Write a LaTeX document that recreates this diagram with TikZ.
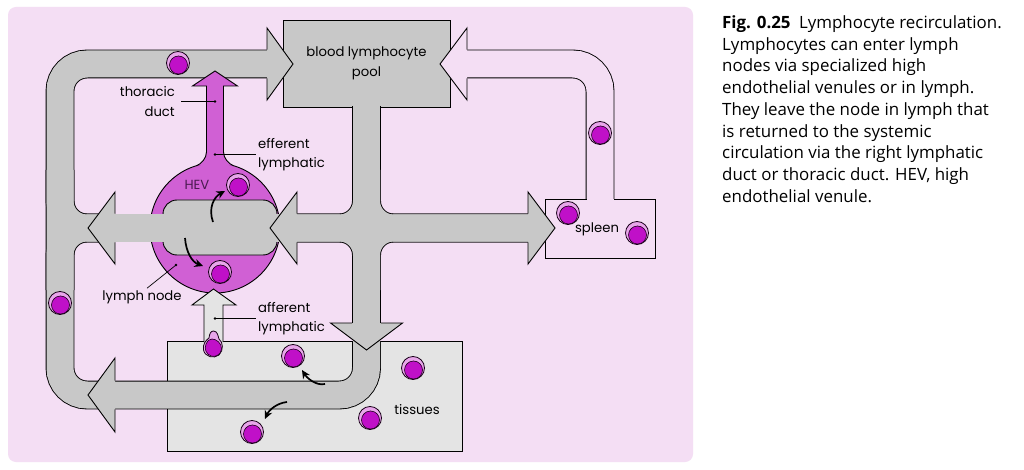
\documentclass[tikz,border=0pt]{standalone}
\usepackage{fontspec}
\usetikzlibrary{arrows.meta}
\newfontfamily\lblfont{Poppins}
\newfontfamily\capfont{Open Sans}
\definecolor{bgpink}{HTML}{F4DEF4}
\definecolor{bandgray}{HTML}{C8C8C8}
\definecolor{tisgray}{HTML}{E4E4E4}
\definecolor{nodemag}{HTML}{D060D4}
\definecolor{cellring}{HTML}{E8A6EA}
\definecolor{cellcore}{HTML}{C010C8}
\definecolor{hevtext}{HTML}{4A1A50}

% grey vessels, drawn twice: black edge first, then the grey filling
\newcommand{\greyroutes}[1]{%
  \draw[#1] (267,64) -- (60,64) -- (60,395) -- (366.5,395) -- (366.5,341);
  \draw[#1] ([yshift=1.5pt]pool.south) -- (366.5,323);
  \draw[#1] (297,228) -- (366.5,228) -- (366.5,170);
  \draw[#1] (297,228) -- (366.5,228) -- (366.5,290);
  \draw[#1] (528,228) -- (366.5,228) -- (366.5,170);
  \draw[#1] (528,228) -- (366.5,228) -- (366.5,290);
  \draw[#1] (115,228) -- (60,228) -- (60,170);
  \draw[#1] (115,228) -- (60,228) -- (60,290);
}

\begin{document}
\begin{tikzpicture}[x=1pt, y=-1pt,
  outline/.style={line width=0.9pt},
  vesseledge/.style={line width=28.8pt, rounded corners=27pt},
  vesselfill/.style={line width=27pt, draw=bandgray, rounded corners=27pt},
  headgrey/.style={fill=bandgray, line width=0.9pt},
  leader/.style={line width=0.7pt},
  curly/.style={line width=1.7pt, -{Stealth[length=8.5pt,width=8pt]}},
  lbl/.style={font=\lblfont\fontsize{13.2}{19.5}\selectfont, text=black, inner sep=2pt},
  cell/.pic={
    \filldraw[fill=cellring, draw=black!80!violet, line width=0.8pt] (0,0) circle (11.5pt);
    \filldraw[fill=cellcore, draw=black!80!violet, line width=0.6pt] (0.5,2) circle (9pt);
  }]
% Background
\fill[white] (0,0) rectangle (1024,470);
\fill[bgpink, rounded corners=8pt] (8,7) rectangle (693,462);

% Tissues and spleen
\node[draw, outline, fill=tisgray, minimum width=295pt, minimum height=110pt] (tissues) at (314.5,396) {};
\draw[vesseledge] (467,64) -- (600,64) -- (600,199);
\draw[vesselfill, draw=bgpink] (467,64) -- (600,64) -- (600,199);
\draw[outline] (586.5,199) -- (545,199) -- (545,258) -- (655,258) -- (655,199) -- (613.5,199);

% Blood pool
\node[draw, outline, fill=bandgray, minimum width=167pt, minimum height=87pt, lbl, align=center] (pool) at (366.5,63.5) {blood lymphocyte\\pool};

% Grey vessels
\greyroutes{vesseledge}
\greyroutes{vesselfill}

% Lymph node with HEV
\node[circle, draw, outline, fill=nodemag, minimum size=130pt] (lnode) at (215,228) {};
\filldraw[fill=nodemag, outline] (196.5,165.7) .. controls (201.3,164.2) and (206.5,158) .. (206.5,152) -- (206.5,86) -- (192.5,86) -- (215,71) -- (237.5,86) -- (223.5,86) -- (223.5,152) .. controls (223.5,158) and (228.7,164.2) .. (233.5,165.7);
\node[draw, outline, fill=bandgray, rounded corners=14pt, minimum width=114pt, minimum height=55pt] (cortex) at (220,227.5) {};
\draw[vesseledge] (115,228) -- (297,228);
\draw[vesselfill] (115,228) -- (297,228);

% Arrow heads
\filldraw[headgrey] (267,49.6) -- (267,28) -- (293,64) -- (267,100) -- (267,78.4);
\filldraw[headgrey, fill=bgpink] (467,49.6) -- (467,28) -- (440,64) -- (467,100) -- (467,78.4);
\filldraw[headgrey] (115,213.6) -- (115,192) -- (88,228) -- (115,264) -- (115,242.4);
\filldraw[headgrey] (297,213.6) -- (297,192) -- (270,228) -- (297,264) -- (297,242.4);
\filldraw[headgrey] (528,213.6) -- (528,192) -- (555,228) -- (528,264) -- (528,242.4);
\filldraw[headgrey] (352.1,323) -- (330.5,323) -- (366.5,350) -- (402.5,323) -- (380.9,323);
\filldraw[headgrey] (115,380.6) -- (115,358) -- (88,395) -- (115,432) -- (115,409.4);
\filldraw[fill=tisgray, outline] (204,342) -- (204,305) -- (192,305) -- (213.5,289) -- (236,305) -- (223,305) -- (223,342);

% Lymphocytes
\pic at (178,63) {cell};
\pic at (238,185) {cell};
\pic at (220,272) {cell};
\pic at (60,303) {cell};
\pic at (293,356) {cell};
\pic at (413,368) {cell};
\pic at (370,418) {cell};
\pic at (252,432) {cell};
\pic at (568,213) {cell};
\pic at (637,233) {cell};
\pic at (600,133) {cell};
\filldraw[fill=cellring, draw=black!80!violet, line width=0.8pt] (213.5,331) .. controls (217.5,331) and (218,336) .. (219,339) .. controls (223,342) and (224,350) .. (219,355) .. controls (214,359) and (205,357) .. (203.5,350) .. controls (202.5,344) and (206,340) .. (209,338) .. controls (209.5,334) and (210.5,331) .. (213.5,331) -- cycle;
\filldraw[fill=cellcore, draw=black!80!violet, line width=0.6pt] (212,339) .. controls (216,339) and (222,343) .. (221.5,349) .. controls (221,355) and (215,357.5) .. (211,356) .. controls (206,354) and (204,349) .. (206,344) .. controls (207,341) and (209,339) .. (212,339) -- cycle;

% Migration arrows
\draw[curly] (213,222) .. controls (208,208) and (214,197) .. (225,191);
\draw[curly] (185,238) .. controls (186,252) and (192,262) .. (203,266);
\draw[curly] (325,384) .. controls (316,386) and (307,378) .. (302,370);
\draw[curly] (287,402) .. controls (277,403) and (269,410) .. (265,419);

% Labels
\node[lbl, align=right, anchor=east] (thor) at (177,101.5) {thoracic\\duct};
\node[lbl, align=left, anchor=west] (effl) at (256,154.5) {efferent\\lymphatic};
\node[lbl, text=hevtext] (hev) at (197,185) {HEV};
\node[lbl] (lnlbl) at (142,297) {lymph node};
\node[lbl, align=left, anchor=west] (affl) at (256,318.5) {afferent\\lymphatic};
\node[lbl] (spleen) at (597,229) {spleen};
\node[lbl] (tislbl) at (417,410) {tissues};

\coordinate (thordot) at (215,101.5);
\coordinate (effdot) at (215,154.5);
\coordinate (lndot) at (176,265);
\coordinate (affdot) at (215,318.5);
\draw[leader] ([xshift=4pt]thor.east) -- (thordot);
\draw[leader] (effdot) -- (effl.west);
\draw[leader] ([xshift=5pt]lnlbl.north) -- (lndot);
\draw[leader] (affdot) -- (affl.west);
\foreach \d in {thordot,effdot,lndot,affdot} \fill (\d) circle (1.4pt);

% Caption
\node[anchor=north west, inner sep=0pt, align=left, font=\capfont\fontsize{16.9}{21.7}\selectfont] (caption) at (722,15.5) {\textbf{Fig. 0.25}\enspace Lymphocyte recirculation.\\Lymphocytes can enter lymph\\nodes via specialized high\\endothelial venules or in lymph.\\They leave the node in lymph that\\is returned to the systemic\\circulation via the right lymphatic\\duct or thoracic duct. HEV, high\\endothelial venule.};
\end{tikzpicture}
\end{document}
